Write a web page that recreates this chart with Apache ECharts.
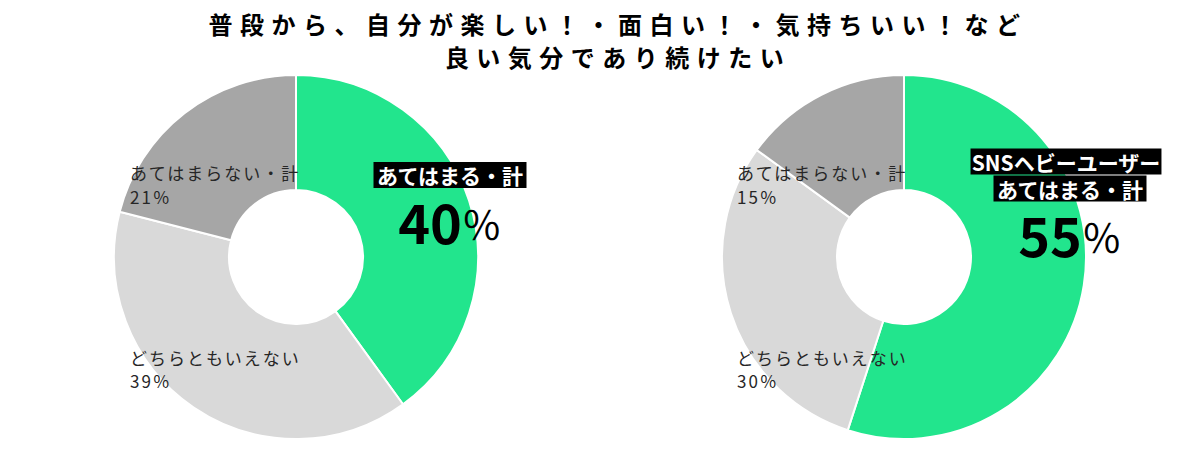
<!DOCTYPE html>
<html><head><meta charset="utf-8">
<script src="https://cdn.jsdelivr.net/npm/echarts@6/dist/echarts.min.js"></script>
<style>html,body{margin:0;padding:0;background:#fff}#c{width:1200px;height:455px}</style>
</head><body><div id="c"></div>
<script>
const titleLines = ['普段から、自分が楽しい！・面白い！・気持ちいい！など', '良い気分であり続けたい'];
const categories = ['あてはまる', 'どちらともいえない', 'あてはまらない'];
const valuesAll = [40, 39, 21];
const valuesSNS = [55, 30, 15];
const snsGroupName = 'SNSヘビーユーザー';
const totalSuffix = '・計';
const pct = '％';
const colors = ['#22E58D', '#D9D9D9', '#A6A6A6'];

const FF = '"Noto Sans CJK JP", "Noto Sans", sans-serif';
const chart = echarts.init(document.getElementById('c'), null, {renderer: 'svg'});

function pie(center, values) {
  return {
    type: 'pie', center: center, radius: [67, 182], startAngle: 90, clockwise: true,
    silent: true, animation: false, z: 1,
    label: {show: false}, labelLine: {show: false}, emphasis: {disabled: true},
    itemStyle: {borderColor: '#fff', borderWidth: 2},
    data: categories.map((n, i) => ({name: n, value: values[i], itemStyle: {color: colors[i]}}))
  };
}

function txt(x, y, text, o) {
  return {type: 'text', x: x, y: y, z: 100, zlevel: 0, silent: true, style: Object.assign({
    text: text, fill: '#262626', fontFamily: FF, fontSize: 17,
    align: 'left', textAlign: 'left', verticalAlign: 'top', textVerticalAlign: 'top'
  }, o || {})};
}
function box(x, y, text, pad) {
  return txt(x, y, text, {fill: '#fff', fontSize: 21, fontWeight: 'bold', lineHeight: 22,
    backgroundColor: '#000', padding: pad || [2, 3],
    align: 'center', textAlign: 'center', verticalAlign: 'middle', textVerticalAlign: 'middle'});
}
function big(x, y, v) {
  return txt(x, y, '{n|' + v + '}{p|' + pct + '}', {
    fill: '#000', align: 'center', textAlign: 'center', verticalAlign: 'middle', textVerticalAlign: 'middle',
    rich: {
      n: {fontSize: 54, fontWeight: 'bold', fontFamily: FF, fill: '#000', verticalAlign: 'middle', lineHeight: 46},
      p: {fontSize: 40, fontWeight: 'normal', fontFamily: FF, fill: '#000', verticalAlign: 'bottom', lineHeight: 32}
    }
  });
}

const graphics = [
  txt(618, 23, titleLines[0], {fill: '#000', fontSize: 24, fontWeight: 'bold', align: 'center', textAlign: 'center', verticalAlign: 'middle', textVerticalAlign: 'middle'}),
  txt(618, 56, titleLines[1], {fill: '#000', fontSize: 24, fontWeight: 'bold', align: 'center', textAlign: 'center', verticalAlign: 'middle', textVerticalAlign: 'middle'}),
  // left pie labels
  txt(130, 160, categories[2] + totalSuffix + '\n' + valuesAll[2] + pct, {lineHeight: 24}),
  txt(130, 345.5, categories[1] + '\n' + valuesAll[1] + pct, {lineHeight: 23}),
  box(450, 175, categories[0] + totalSuffix),
  big(450, 220, valuesAll[0]),
  // right pie labels
  txt(737, 160, categories[2] + totalSuffix + '\n' + valuesSNS[2] + pct, {lineHeight: 24}),
  txt(737, 345.5, categories[1] + '\n' + valuesSNS[1] + pct, {lineHeight: 23}),
  box(1066, 161.5, snsGroupName, [2, 1]),
  box(1070, 188.5, categories[0] + totalSuffix),
  big(1070, 233, valuesSNS[0])
];

chart.setOption({
  animation: false,
  series: [pie([296, 257], valuesAll), pie([904, 257], valuesSNS)],
  graphic: {elements: graphics}
});

function applySpacing() {
  document.querySelectorAll('#c svg text').forEach(t => {
    const fs = parseFloat(getComputedStyle(t).fontSize);
    let ls = 0;
    if (Math.abs(fs - 24) < 0.5) ls = 7.5;
    else if (Math.abs(fs - 17) < 0.5) ls = 2;
    t.style.letterSpacing = ls + 'px';
  });
}
try { chart.getZr().flush(); } catch (e) {}
applySpacing();
chart.on('finished', applySpacing);
chart.on('rendered', applySpacing);
setTimeout(applySpacing, 50);
</script></body></html>
